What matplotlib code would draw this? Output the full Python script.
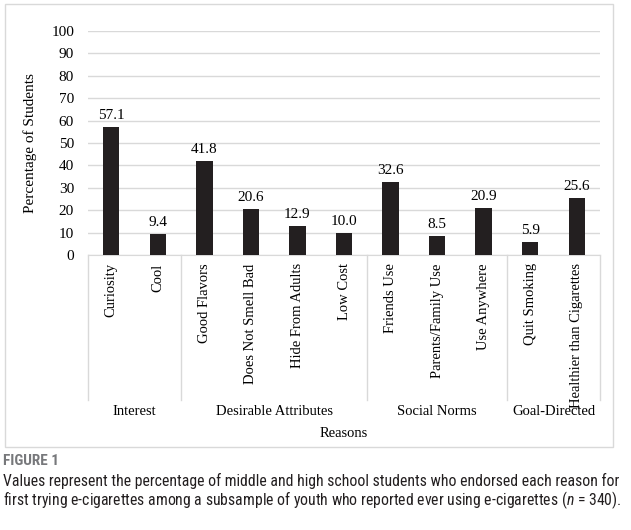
import matplotlib
matplotlib.use('Agg')
import matplotlib.pyplot as plt
from matplotlib.patches import Rectangle
import matplotlib.transforms as mtransforms

# Data
reasons = ['Curiosity', 'Cool', 'Good Flavors', 'Does Not Smell Bad',
           'Hide From Adults', 'Low Cost', 'Friends Use', 'Parents/Family Use',
           'Use Anywhere', 'Quit Smoking', 'Healthier than Cigarettes']
percent = [57.1, 9.4, 41.8, 20.6, 12.9, 10.0, 32.6, 8.5, 20.9, 5.9, 25.6]
groups = ['Interest', 'Desirable Attributes', 'Social Norms', 'Goal-Directed']
group_sizes = [2, 4, 3, 2]

plt.rcParams['font.family'] = ['Liberation Serif', 'DejaVu Serif']
plt.rcParams['mathtext.fontset'] = 'custom'
plt.rcParams['mathtext.it'] = 'Roboto Condensed:italic'

W, H = 631, 530
fig = plt.figure(figsize=(W / 100, H / 100), dpi=100)

# light frame around the chart
fig.patches.append(Rectangle((5 / W, 1 - 447 / H), 608 / W, 443 / H,
                             transform=fig.transFigure, fill=False,
                             edgecolor='#d9d9d9', linewidth=1))

ax = fig.add_axes([88 / W, 1 - 255 / H, 512 / W, 224 / H])
x = list(range(len(reasons)))
ax.bar(x, percent, width=0.35, color='#231f20', zorder=3)
for xi, v in zip(x, percent):
    ax.text(xi, v + 2.2, f'{v:.1f}', ha='center', va='bottom', fontsize=11)

ax.set_xlim(-0.5, len(reasons) - 0.5)
ax.set_ylim(0, 100)
ax.set_yticks(range(0, 101, 10))
ax.tick_params(axis='y', length=0, labelsize=11, pad=10)
ax.set_xticks(x)
ax.set_xticklabels(reasons, rotation=90, fontsize=10.5)
ax.tick_params(axis='x', length=0, pad=6)
ax.grid(axis='y', color='#d9d9d9', linewidth=1, zorder=0)
for s in ['top', 'right', 'left']:
    ax.spines[s].set_visible(False)
ax.spines['bottom'].set_color('#d9d9d9')
ax.set_ylabel('Percentage of Students', fontsize=11, labelpad=10)

# group separators and labels
trans = mtransforms.blended_transform_factory(ax.transData, ax.transAxes)
bounds = [-0.5]
for n in group_sizes:
    bounds.append(bounds[-1] + n)
for b in bounds:
    ax.plot([b, b], [0, -0.647], color='#d9d9d9', linewidth=1,
            transform=trans, clip_on=False)
for g, a, b in zip(groups, bounds[:-1], bounds[1:]):
    ax.text((a + b) / 2, -0.70, g, transform=trans, ha='center', va='center',
            fontsize=10.5)
ax.text(0.5, -0.795, 'Reasons', transform=ax.transAxes, ha='center',
        va='center', fontsize=10.5)

# caption
cap_font = ['Liberation Sans Narrow', 'Roboto Condensed', 'Noto Sans Condensed',
            'Liberation Sans']
fig.text(3 / W, 1 - 461 / H, 'FIGURE 1', family=cap_font, weight='bold',
         color='#77787b', fontsize=11, va='center')
fig.text(3 / W, 1 - 481 / H,
         'Values represent the percentage of middle and high school students who endorsed each reason for',
         family=cap_font, color='#231f20', fontsize=11.3, va='center')
fig.text(3 / W, 1 - 500 / H,
         'first trying e-cigarettes among a subsample of youth who reported ever using e-cigarettes ($n$ = 340).',
         family=cap_font, color='#231f20', fontsize=11.3, va='center')

fig.savefig('out.png', dpi=100)
